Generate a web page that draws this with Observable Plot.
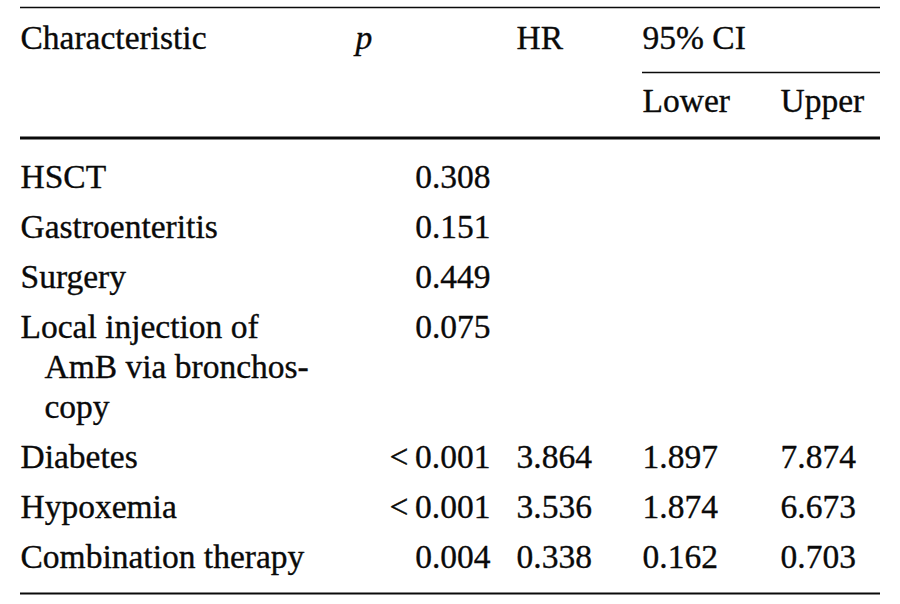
<!DOCTYPE html>
<html>
<head>
<meta charset="utf-8">
<script src="https://cdn.jsdelivr.net/npm/d3@7"></script>
<script src="https://cdn.jsdelivr.net/npm/@observablehq/plot@0.6"></script>
<style>
  html, body { margin: 0; padding: 0; background: #ffffff; }
  #chart svg { display: block; }
</style>
</head>
<body>
<div id="chart"></div>
<script>
// ---- Data ----
const characteristicLines = [
  ["HSCT"],
  ["Gastroenteritis"],
  ["Surgery"],
  ["Local injection of", "AmB via bronchos-", "copy"],
  ["Diabetes"],
  ["Hypoxemia"],
  ["Combination therapy"]
];
const pValues = ["0.308", "0.151", "0.449", "0.075", "<\u20090.001", "<\u20090.001", "0.004"];
const hazardRatios = [null, null, null, null, 3.864, 3.536, 0.338];
const ciLower = [null, null, null, null, 1.897, 1.874, 0.162];
const ciUpper = [null, null, null, null, 7.874, 6.673, 0.703];
const headerTop = ["Characteristic", "p", "HR", "95% CI"];
const headerSub = ["Lower", "Upper"];

// ---- Layout (positions, not data) ----
const W = 900, H = 604;
const col = { left: 20, indent: 24, pHead: 355, pRight: 490, hr: 516, lower: 642, upper: 780, right: 880 };
const rowY = { head1: 48, head2: 111, body0: 187.5, step: 50, wrap: 40 };
const lineY = { top: 7, ci: 72, head: 137.5, bottom: 593 };
const fmt = d3.format(".3f");
const font = "'Liberation Serif', 'Times New Roman', Times, serif";
const fs = 33.5;
const ink = "#0a0a0a";

// Build cells
const leftCells = [];
const rightCells = [];
const italicCells = [];

leftCells.push({ x: col.left, y: rowY.head1, t: headerTop[0] });
italicCells.push({ x: col.pHead, y: rowY.head1, t: headerTop[1] });
leftCells.push({ x: col.hr, y: rowY.head1, t: headerTop[2] });
leftCells.push({ x: col.lower, y: rowY.head1, t: headerTop[3] });
leftCells.push({ x: col.lower, y: rowY.head2, t: headerSub[0] });
leftCells.push({ x: col.upper, y: rowY.head2, t: headerSub[1] });

let y = rowY.body0;
characteristicLines.forEach((lines, i) => {
  lines.forEach((s, j) => {
    leftCells.push({ x: col.left + (j > 0 ? col.indent : 0), y: y + j * rowY.wrap, t: s });
  });
  rightCells.push({ x: col.pRight, y, t: pValues[i] });
  if (hazardRatios[i] != null) leftCells.push({ x: col.hr, y, t: fmt(hazardRatios[i]) });
  if (ciLower[i] != null) leftCells.push({ x: col.lower, y, t: fmt(ciLower[i]) });
  if (ciUpper[i] != null) leftCells.push({ x: col.upper, y, t: fmt(ciUpper[i]) });
  y += (lines.length - 1) * rowY.wrap + rowY.step;
});

const textOpts = {
  x: "x", y: "y", text: "t",
  fontFamily: font, fontSize: fs, fill: ink,
  stroke: ink, strokeWidth: 0.35, paintOrder: "fill",
  lineAnchor: "bottom"
};

const chart = Plot.plot({
  width: W,
  height: H,
  margin: 0,
  x: { domain: [0, W], range: [0, W], axis: null },
  y: { domain: [0, H], range: [0, H], axis: null },
  style: { background: "#ffffff" },
  marks: [
    Plot.ruleY([lineY.top], { x1: col.left, x2: col.right, stroke: ink, strokeWidth: 1.6 }),
    Plot.ruleY([lineY.ci], { x1: col.lower, x2: col.right, stroke: ink, strokeWidth: 1.6 }),
    Plot.ruleY([lineY.head], { x1: col.left, x2: col.right, stroke: ink, strokeWidth: 3.2 }),
    Plot.ruleY([lineY.bottom], { x1: col.left, x2: col.right, stroke: ink, strokeWidth: 2 }),
    Plot.text(leftCells, { ...textOpts, textAnchor: "start" }),
    Plot.text(rightCells, { ...textOpts, textAnchor: "end" }),
    Plot.text(italicCells, { ...textOpts, textAnchor: "start", fontStyle: "italic" })
  ]
});
document.getElementById("chart").appendChild(chart);
</script>
</body>
</html>
